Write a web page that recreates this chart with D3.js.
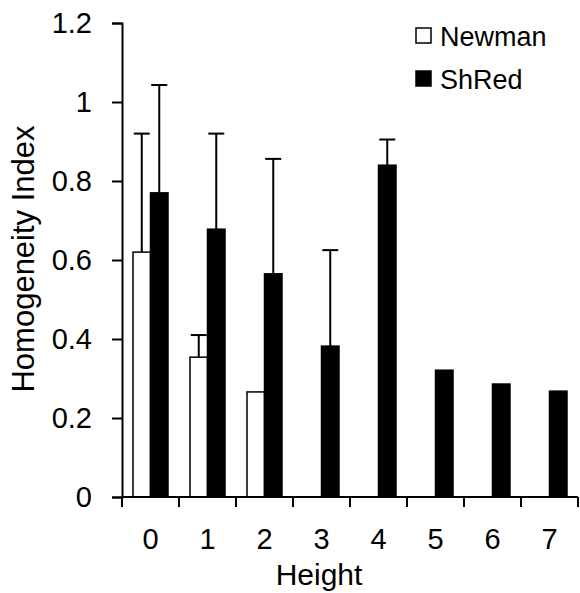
<!DOCTYPE html>
<html>
<head>
<meta charset="utf-8">
<script src="https://cdn.jsdelivr.net/npm/d3@7"></script>
<style>
  body { margin: 0; background: #fff; }
  text { font-family: "Liberation Sans", Arial, sans-serif; fill: #000; }
</style>
</head>
<body>
<svg id="chart" width="580" height="593"></svg>
<script>
var heights = ["0", "1", "2", "3", "4", "5", "6", "7"];
var series = ["Newman", "ShRed"];
var newman = [0.62, 0.354, 0.266, null, null, null, null, null];
var newmanErr = [0.30, 0.056, 0, null, null, null, null, null];
var shred = [0.77, 0.678, 0.565, 0.382, 0.84, 0.321, 0.286, 0.268];
var shredErr = [0.273, 0.242, 0.291, 0.243, 0.065, 0, 0, 0];
var yTicks = [0, 0.2, 0.4, 0.6, 0.8, 1, 1.2];

var margin = {left: 122, right: 2, top: 23, bottom: 96};
var width = 580, height = 593;

var svg = d3.select("#chart");

var x = d3.scaleBand()
          .domain(heights)
          .range([margin.left, width - margin.right]);

var y = d3.scaleLinear()
          .domain([0, 1.2])
          .range([height - margin.bottom, margin.top]);

var barW = 17.5;
var fills = {"Newman": "#fff", "ShRed": "#000"};

// build one row per bar
var rows = [];
heights.forEach(function(h, i) {
  if (newman[i] != null) rows.push({h: h, s: "Newman", v: newman[i], e: newmanErr[i], k: 0});
  rows.push({h: h, s: "ShRed", v: shred[i], e: shredErr[i], k: 1});
});

function barX(d) {
  return x(d.h) + x.bandwidth() / 2 - barW + d.k * barW;
}

// error bars (upward only)
var errs = svg.append("g").selectAll("g")
  .data(rows.filter(function(d) { return d.e > 0; }))
  .enter().append("g");

errs.append("line")
    .attr("x1", function(d) { return barX(d) + barW / 2; })
    .attr("x2", function(d) { return barX(d) + barW / 2; })
    .attr("y1", function(d) { return y(d.v); })
    .attr("y2", function(d) { return y(d.v + d.e); })
    .attr("stroke", "#000").attr("stroke-width", 2);

errs.append("line")
    .attr("x1", function(d) { return barX(d) + barW / 2 - 8; })
    .attr("x2", function(d) { return barX(d) + barW / 2 + 8; })
    .attr("y1", function(d) { return y(d.v + d.e); })
    .attr("y2", function(d) { return y(d.v + d.e); })
    .attr("stroke", "#000").attr("stroke-width", 2);

svg.append("g").selectAll("rect")
  .data(rows)
  .enter().append("rect")
    .attr("x", barX)
    .attr("y", function(d) { return y(d.v); })
    .attr("width", barW)
    .attr("height", function(d) { return y(0) - y(d.v); })
    .attr("fill", function(d) { return fills[d.s]; })
    .attr("stroke", "#000")
    .attr("stroke-width", 1.5);

// axes
var yAxis = d3.axisLeft(y).tickValues(yTicks).tickSize(10).tickPadding(20)
              .tickFormat(function(d) { return d3.format("")(+d.toFixed(1)); });
var gy = svg.append("g").attr("transform", "translate(" + margin.left + ",0)").call(yAxis);

var gx = svg.append("g").attr("transform", "translate(0," + y(0) + ")")
            .call(d3.axisBottom(x).tickSize(0).tickPadding(31));

// x ticks sit on band boundaries
var bounds = heights.map(function(h) { return x(h); }).concat([x.range()[1]]);
gx.selectAll(".bound").data(bounds).enter().append("line")
  .attr("x1", function(d) { return d; }).attr("x2", function(d) { return d; })
  .attr("y1", 0).attr("y2", 10)
  .attr("stroke", "#000").attr("stroke-width", 2);

[gx, gy].forEach(function(g) {
  g.select(".domain").attr("stroke", "#000").attr("stroke-width", 2);
  g.selectAll(".tick line").attr("stroke", "#000").attr("stroke-width", 2);
  g.selectAll("text").style("font-size", "29px").attr("fill", "#000")
   .style("font-family", "'Liberation Sans', Arial, sans-serif");
});
gx.select(".domain").attr("d", "M" + margin.left + ",0H" + (width - margin.right));

svg.append("text")
   .attr("x", 319).attr("y", 585)
   .attr("text-anchor", "middle")
   .style("font-size", "30px")
   .text("Height");

svg.append("text")
   .attr("transform", "translate(34,259) rotate(-90)")
   .attr("text-anchor", "middle")
   .style("font-size", "31px")
   .text("Homogeneity Index");

// legend
var legend = svg.append("g").selectAll("g")
  .data(series).enter().append("g")
  .attr("transform", function(d, i) { return "translate(416," + (28 + i * 43) + ")"; });

legend.append("rect")
  .attr("width", 15).attr("height", 15)
  .attr("fill", function(d) { return fills[d]; })
  .attr("stroke", "#000").attr("stroke-width", 1.5);

legend.append("text")
  .attr("x", 24).attr("y", 18)
  .style("font-size", "27px")
  .text(function(d) { return d; });
</script>
</body>
</html>
